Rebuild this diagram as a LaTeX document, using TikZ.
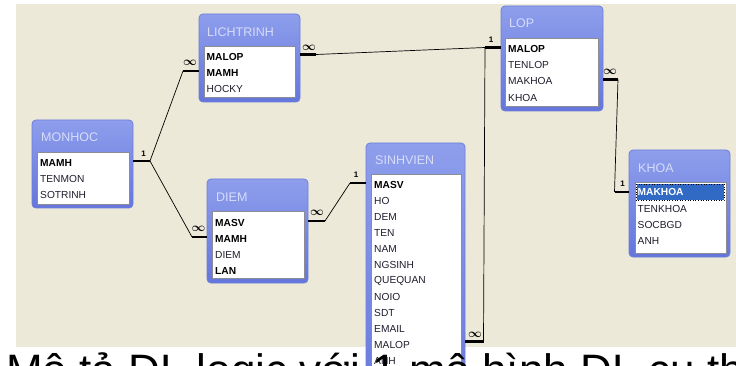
\documentclass[tikz,border=0pt]{standalone}
\usepackage{fontspec}
\setmainfont{Liberation Sans}
\definecolor{bg}{RGB}{236,233,216}
\definecolor{hdrtop}{RGB}{142,158,236}
\definecolor{hdrbot}{RGB}{100,118,220}
\definecolor{hdredge}{RGB}{110,126,218}
\definecolor{titlecol}{RGB}{214,220,250}
\definecolor{listedge}{RGB}{140,140,150}
\definecolor{fieldcol}{RGB}{30,30,45}
\definecolor{selblue}{RGB}{49,106,197}
\begin{document}
\begin{tikzpicture}[x=1pt,y=-1pt,
  tbox/.style={rounded corners=4pt, top color=hdrtop, bottom color=hdrbot, draw=hdredge, line width=0.8pt},
  tlist/.style={fill=white, draw=listedge, line width=0.9pt},
  ttitle/.style={anchor=base west, text=titlecol, inner sep=0pt, font=\fontsize{12.5}{12.5}\selectfont},
  fld/.style={anchor=west, inner sep=0pt, text=fieldcol, font=\fontsize{10.2}{10.2}\selectfont},
  key/.style={fld, text=black, font=\fontsize{10.2}{10.2}\selectfont\bfseries},
  selkey/.style={fld, text=white, font=\fontsize{10.2}{10.2}\selectfont\bfseries},
  stub/.style={line width=2.6pt, line cap=butt},
  rel/.style={line width=0.7pt},
  one/.style={inner sep=0pt, font=\fontsize{8}{8}\selectfont\bfseries},
  many/.style={inner sep=0pt, font=\fontsize{12}{12}\selectfont\boldmath}
]
\useasboundingbox (0,0) rectangle (736,366);
\clip (0,0) rectangle (736,366);
\fill[white] (0,0) rectangle (736,366);
\fill[bg] (16,4) rectangle (736,347);

% ---------- LICHTRINH ----------
\draw[tbox] (199,14) rectangle (300,102);
\draw[tlist] (204,46) rectangle (295,97);
\node[ttitle] (lichtrinh) at (207,36.5) {LICHTRINH};
\foreach \f/\st [count=\i from 0] in {MALOP/key, MAMH/key, HOCKY/fld}
  \node[\st] (lt\i) at (206.5,57+16*\i) {\f};

% ---------- LOP ----------
\draw[tbox] (501,6) rectangle (603,111);
\draw[tlist] (505.5,38) rectangle (598,106);
\node[ttitle] (lop) at (509,28) {LOP};
\foreach \f/\st [count=\i from 0] in {MALOP/key, TENLOP/fld, MAKHOA/fld, KHOA/fld}
  \node[\st] (lp\i) at (508,49+16.2*\i) {\f};

% ---------- MONHOC ----------
\draw[tbox] (32,120) rectangle (133,208);
\draw[tlist] (37,152) rectangle (129,204);
\node[ttitle] (monhoc) at (41,142) {MONHOC};
\foreach \f/\st [count=\i from 0] in {MAMH/key, TENMON/fld, SOTRINH/fld}
  \node[\st] (mh\i) at (40,163+16*\i) {\f};

% ---------- DIEM ----------
\draw[tbox] (207,179) rectangle (308,283);
\draw[tlist] (212,211) rectangle (304,278);
\node[ttitle] (diem) at (216,202) {DIEM};
\foreach \f/\st [count=\i from 0] in {MASV/key, MAMH/key, DIEM/fld, LAN/key}
  \node[\st] (dm\i) at (215,223+16*\i) {\f};

% ---------- SINHVIEN ----------
\draw[tbox] (366,143) rectangle (465,420);
\draw[tlist] (371,174) rectangle (461,420);
\node[ttitle] (sinhvien) at (375,165) {SINHVIEN};
\foreach \f/\st [count=\i from 0] in {MASV/key, HO/fld, DEM/fld, TEN/fld, NAM/fld, NGSINH/fld, QUEQUAN/fld, NOIO/fld, SDT/fld, EMAIL/fld, MALOP/fld, ANH/fld}
  \node[\st] (sv\i) at (374,185+16*\i) {\f};

% ---------- KHOA ----------
\draw[tbox] (629,150) rectangle (730,257);
\draw[tlist] (635,182) rectangle (726,253);
\node[ttitle] (khoa) at (638,173) {KHOA};
\fill[selblue] (636.5,184) rectangle (724,200.5);
\draw[black, dotted, line width=0.6pt] (636.5,184) rectangle (724,200.5);
\node[selkey] (kh0) at (637.5,192.3) {MAKHOA};
\foreach \f [count=\i from 1] in {TENKHOA, SOCBGD, ANH}
  \node[fld] (kh\i) at (637.5,192.5+16.1*\i) {\f};

% ---------- connector end points ----------
\coordinate (mhA) at (133,161);  \coordinate (mhB) at (150,161);
\coordinate (ltA) at (183,71);   \coordinate (ltB) at (199,71);
\coordinate (dmA) at (192,237);  \coordinate (dmB) at (207,237);
\coordinate (dmC) at (308,221);  \coordinate (dmD) at (325,221);
\coordinate (svA) at (350,183);  \coordinate (svB) at (366,183);
\coordinate (ltC) at (300,54.5); \coordinate (ltD) at (316,54.5);
\coordinate (lpA) at (485,47.5); \coordinate (lpB) at (501,47.5);
\coordinate (svC) at (465,341.5); \coordinate (svD) at (483.5,341.5);
\coordinate (lpC) at (603,79.5); \coordinate (lpD) at (618,79.5);
\coordinate (khA) at (614.5,192); \coordinate (khB) at (629,192);

% stubs
\foreach \a/\b in {mhA/mhB, ltA/ltB, dmA/dmB, dmC/dmD, svA/svB, ltC/ltD, lpA/lpB, svC/svD, lpC/lpD, khA/khB}
  \draw[stub] (\a) -- (\b);

% relationship lines
\draw[rel] (mhB) -- (ltA);
\draw[rel] (mhB) -- (dmA);
\draw[rel] (dmD) -- (svA);
\draw[rel] (ltD) -- (lpA);
\draw[rel] (lpA) -- (svD);
\draw[rel] (lpD) -- (khA);

% cardinality labels
\node[one]  (c1) at (143.5,153.5) {1};
\node[many] (c2) at (190,63) {$\infty$};
\node[many] (c3) at (198.5,228.5) {$\infty$};
\node[many] (c4) at (317,213) {$\infty$};
\node[one]  (c5) at (356,175) {1};
\node[many] (c6) at (309,48) {$\infty$};
\node[one]  (c7) at (491,40) {1};
\node[many] (c8) at (475,335) {$\infty$};
\node[many] (c9) at (610,72) {$\infty$};
\node[one]  (c10) at (622.5,183.5) {1};

% caption (cut off by the picture edge)
\node[anchor=base west, inner sep=0pt, text=black, font=\fontsize{44}{44}\selectfont] (caption) at (6,385) {Mô tả DL logic với 1 mô hình DL cụ th};
\end{tikzpicture}
\end{document}
